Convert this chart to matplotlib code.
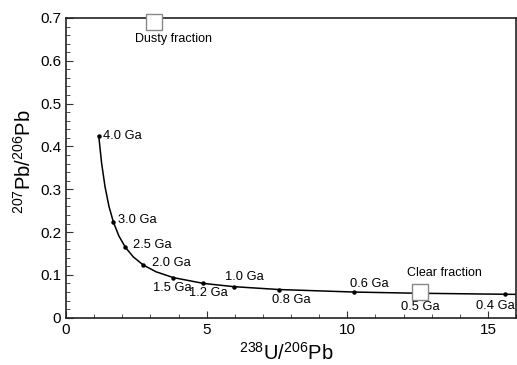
import matplotlib
matplotlib.use("Agg")
import matplotlib.pyplot as plt
from matplotlib.ticker import MultipleLocator

plt.rcParams['font.family'] = ['Liberation Sans', 'DejaVu Sans']
plt.rcParams['mathtext.fontset'] = 'custom'
plt.rcParams['mathtext.rm'] = 'Liberation Sans'
plt.rcParams['mathtext.it'] = 'Liberation Sans:italic'

# concordia points (age in Ga, 238U/206Pb, 207Pb/206Pb)
curve_ages = [4.0, 3.75, 3.5, 3.25, 3.0, 2.75, 2.5, 2.25, 2.0, 1.75, 1.5, 1.2, 1.0,
              0.8, 0.6, 0.5, 0.4, 0.39]
curve_x = [1.163, 1.267, 1.387, 1.525, 1.688, 1.880, 2.111, 2.394, 2.748, 3.206,
           3.817, 4.887, 5.959, 7.568, 10.252, 12.40, 15.62, 16.03]
curve_y = [0.4249, 0.3600, 0.3059, 0.2605, 0.2226, 0.1909, 0.1643, 0.1419, 0.1230,
           0.1071, 0.0936, 0.0801, 0.0725, 0.0658, 0.0599, 0.0572, 0.0547, 0.0545]

# labelled ages and where their text sits
label_ages = [4.0, 3.0, 2.5, 2.0, 1.5, 1.2, 1.0, 0.8, 0.6, 0.5, 0.4]
label_x = [1.31, 1.86, 2.39, 3.04, 3.08, 4.37, 5.67, 7.34, 10.1, 11.9, 14.57]
label_y = [0.424, 0.229, 0.169, 0.127, 0.069, 0.057, 0.094, 0.041, 0.079, 0.026, 0.027]

# measured fractions
frac_names = ["Dusty fraction", "Clear fraction"]
frac_x = [3.14, 12.6]
frac_y = [0.690, 0.061]
frac_text_x = [3.83, 13.47]
frac_text_y = [0.651, 0.104]

fig = plt.figure(figsize=(5.17, 3.65), dpi=100)
ax = fig.add_axes([0.1277, 0.1296, 0.8704, 0.8211])

ax.plot(curve_x, curve_y, color="black", lw=1.1, zorder=2)
dot_x = [x for a, x in zip(curve_ages, curve_x) if a in label_ages]
dot_y = [y for a, y in zip(curve_ages, curve_y) if a in label_ages]
ax.plot(dot_x, dot_y, "o", color="black", ms=2.2, zorder=3)

for a, tx, ty in zip(label_ages, label_x, label_y):
    ax.text(tx, ty, f"{a:.1f} Ga", fontsize=9.3, ha="left", va="center")

ax.plot(frac_x, frac_y, "s", ms=11, mfc="white", mec="#888888", mew=1.0,
        zorder=4, clip_on=False)
for name, tx, ty in zip(frac_names, frac_text_x, frac_text_y):
    ax.text(tx, ty, name, fontsize=9, ha="center", va="center")

ax.set_xlim(0, 16)
ax.set_ylim(0, 0.7)
ax.xaxis.set_major_locator(MultipleLocator(5))
ax.xaxis.set_minor_locator(MultipleLocator(1))
ax.yaxis.set_minor_locator(MultipleLocator(0.02))
ax.set_yticks([0, 0.1, 0.2, 0.3, 0.4, 0.5, 0.6, 0.7])
ax.set_yticklabels(["0", "0.1", "0.2", "0.3", "0.4", "0.5", "0.6", "0.7"])
ax.tick_params(which="both", direction="in", labelsize=11, color="#333333")
ax.tick_params(which="major", length=5)
ax.tick_params(which="minor", length=3)
for s in ax.spines.values():
    s.set_linewidth(1.2)
    s.set_color("#222222")

ax.set_xlabel(r"$^{238}\mathrm{U/}^{206}\mathrm{Pb}$", fontsize=14.5)
ax.set_ylabel(r"$^{207}\mathrm{Pb/}^{206}\mathrm{Pb}$", fontsize=14.5)
ax.xaxis.set_label_coords(0.49, -0.08)
ax.yaxis.set_label_coords(-0.07, 0.52)

fig.savefig("out.png", dpi=100)
